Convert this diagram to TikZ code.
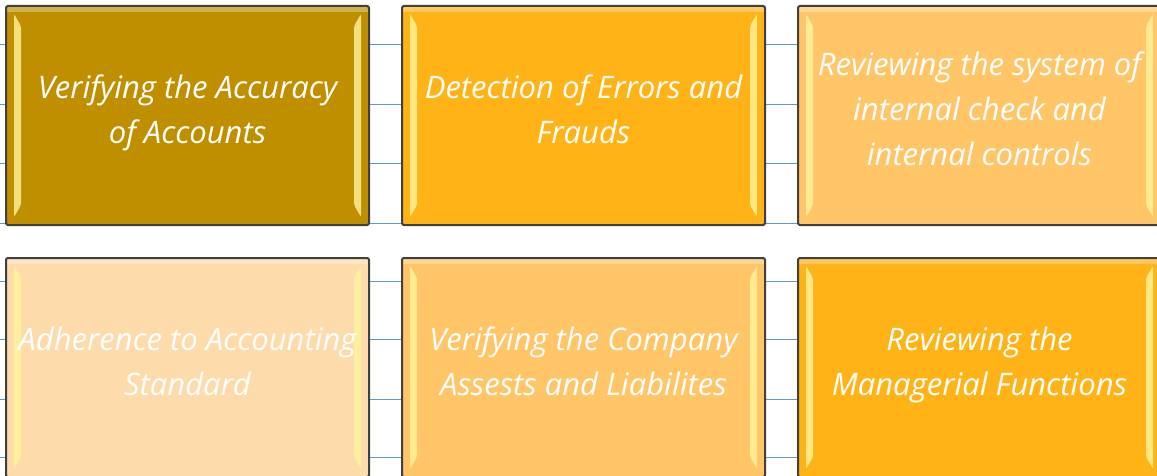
\documentclass[tikz,border=0pt]{standalone}
\usepackage{fontspec}
\setmainfont{Open Sans}
\usetikzlibrary{positioning}
\definecolor{AuGold}{HTML}{BF8F00}
\definecolor{AuAmber}{HTML}{FFB317}
\definecolor{AuLight}{HTML}{FFC566}
\definecolor{AuPale}{HTML}{FEDBAA}
\definecolor{AuRule}{HTML}{5B9BD5}
\definecolor{AuEdge}{HTML}{404040}
\definecolor{AuGlow}{HTML}{FFF59D}

\begin{document}
\begin{tikzpicture}[
    x=1pt, y=1pt,
    auditbox/.style={
        draw=AuEdge, line width=2pt, rounded corners=2pt,
        minimum width=363pt, minimum height=219pt, inner sep=0pt,
        align=center, text=white,
        font=\fontsize{31}{45}\selectfont\itshape,
        execute at begin node=\strut, execute at end node=\strut,
        path picture={
            \fill[white, opacity=0.3] ([yshift=-1pt]path picture bounding box.north west)
                rectangle ([yshift=-6pt]path picture bounding box.north east);
            \fill[AuGlow, opacity=0.8] ([xshift=8pt,yshift=-8pt]path picture bounding box.north west)
                -- ([xshift=15pt,yshift=-20pt]path picture bounding box.north west)
                -- ([xshift=15pt,yshift=20pt]path picture bounding box.south west)
                -- ([xshift=8pt,yshift=8pt]path picture bounding box.south west) -- cycle;
            \fill[AuGlow, opacity=0.8] ([xshift=-8pt,yshift=-8pt]path picture bounding box.north east)
                -- ([xshift=-15pt,yshift=-20pt]path picture bounding box.north east)
                -- ([xshift=-15pt,yshift=20pt]path picture bounding box.south east)
                -- ([xshift=-8pt,yshift=8pt]path picture bounding box.south east) -- cycle;
        }
    }
 ]
\useasboundingbox (0,0) rectangle (1157,475);
\clip (0,0) rectangle (1157,475);
\fill[white] (0,0) rectangle (1157,475);

    % ruled lines behind the boxes
    \foreach \y in {430,370,312,252,194,136,76,18} {
        \draw[AuRule, line width=1pt] (0,\y) -- (1157,\y);
    }

\node[auditbox, fill=AuGold] (accuracy) at (187.5,359.5) {Verifying the Accuracy\\of Accounts};
\node[auditbox, fill=AuAmber, right=31pt of accuracy] (frauds) {Detection of Errors and\\Frauds};
\node[auditbox, fill=AuLight, right=31pt of frauds] (intcheck) {Reviewing the system of\\internal check and\\internal controls};

\node[auditbox, fill=AuPale, below=31pt of accuracy] (standard) {Adherence to Accounting\\Standard};
\node[auditbox, fill=AuLight, right=31pt of standard] (assets) {Verifying the Company\\Assests and Liabilites};
\node[auditbox, fill=AuAmber, right=31pt of assets] (managerial) {Reviewing the\\Managerial Functions};

\end{tikzpicture}
\end{document}
